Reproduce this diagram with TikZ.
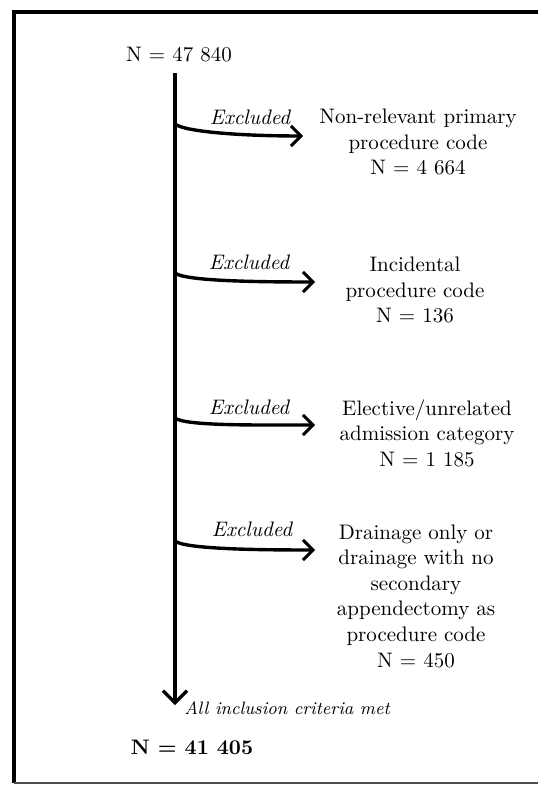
\documentclass[tikz,border=0pt]{standalone}
\usetikzlibrary{arrows.meta}
\begin{document}
\begin{tikzpicture}[x=0.5pt, y=-0.5pt,
    flow/.style={line width=1.7pt, -{Straight Barb[length=5pt,width=10pt,line width=1.5pt]}},
    exlabel/.style={font=\fontsize{10.5}{12}\selectfont\itshape},
    crit/.style={align=center, font=\fontsize{10.5}{12.8}\selectfont}]
    \useasboundingbox (0,0) rectangle (537,785);

    % Rahmen
    \draw[line width=2pt] (545,12) -- (14,12) -- (14,783);
    \draw[line width=0.8pt, black!70] (14,783) -- (545,783);

    % Start und Ende
    \node (start) at (179,55) {\fontsize{10.5}{12}\selectfont N = 47 840};
    \coordinate (top) at (175,73);
    \coordinate (bottom) at (175,705);
    \draw[line width=2pt, -{Straight Barb[length=6pt,width=12pt,line width=1.6pt]}] (top) -- (bottom);
    \node[font=\fontsize{9}{11}\selectfont\itshape] (met) at (287,708) {All inclusion criteria met};
    \node[font=\fontsize{10.5}{12}\selectfont\bfseries] (final) at (192,747) {N = 41 405};

    % Ausschluesse (Zweige)
    \foreach \i/\ya/\yb/\xt/\xe/\ye/\xr/\yr/\txt in {
        1/124/136/303/250/117/418/142/{Non-relevant primary\\procedure code\\N = 4 664},
        2/273/282/315/249/262/415/290/{Incidental\\procedure code\\N = 136},
        3/418/425/315/249/407/427/433/{Elective/unrelated\\admission category\\N = 1 185},
        4/541/550/315/252/529/416/596/{Drainage only or\\drainage with no\\secondary\\appendectomy as\\procedure code\\N = 450}} {
        \coordinate (b\i) at (175,\ya);
        \coordinate (t\i) at (\xt,\yb);
        \node[exlabel] (ex\i) at (\xe,\ye) {Excluded};
        \node[crit] (res\i) at (\xr,\yr) {\txt};
        \draw[flow] (b\i) .. controls ([xshift=5pt,yshift=-4pt]b\i) and ([xshift=-30pt]t\i) .. (t\i);
    }
\end{tikzpicture}
\end{document}
